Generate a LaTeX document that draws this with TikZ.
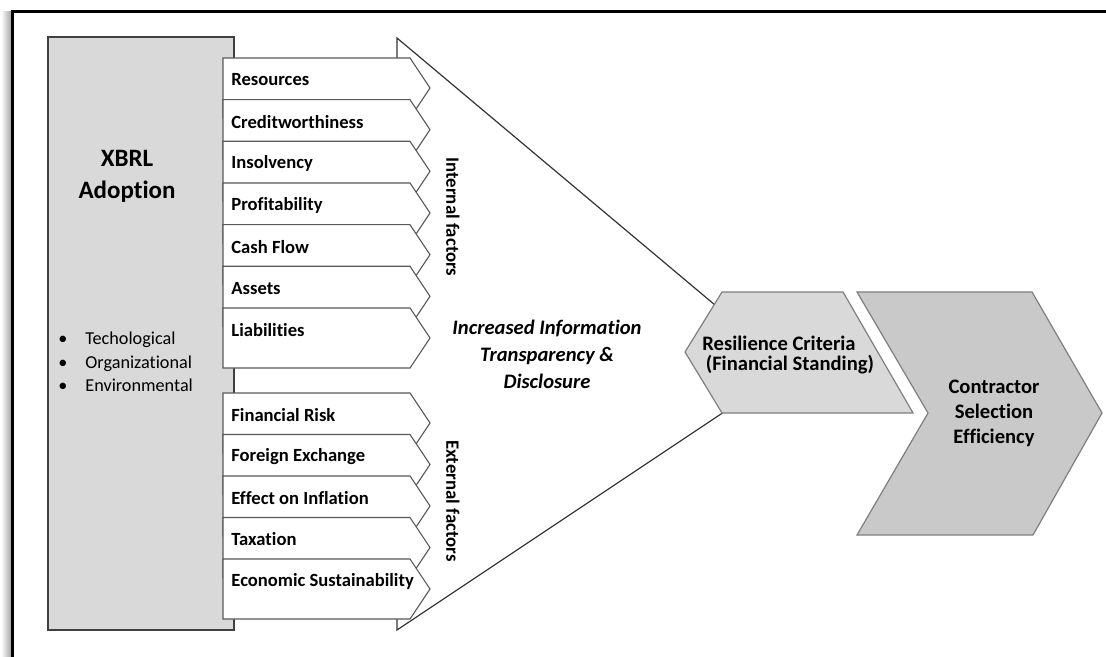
\documentclass[tikz,border=0pt]{standalone}
\usepackage{fontspec}
\setmainfont[Ligatures=NoCommon]{Carlito}
\usetikzlibrary{positioning}

\definecolor{panelgray}{HTML}{D9D9D9}
\definecolor{chevgray}{HTML}{C9C9C9}
\definecolor{edgegray}{HTML}{7F7F7F}

\tikzset{
  factorbox/.style={draw=black!65, fill=white, line width=0.55pt},
  factor/.style={anchor=west, inner sep=0pt, font=\bfseries\fontsize{9.3}{11}\selectfont},
  sidelabel/.style={rotate=-90, inner sep=0pt, font=\bfseries\fontsize{9.4}{11}\selectfont},
  headtext/.style={align=center, inner sep=0pt, font=\bfseries\fontsize{10.3}{12.5}\selectfont}
}

\begin{document}
\begin{tikzpicture}[x=0.5pt, y=-0.5pt]
\useasboundingbox (0,0) rectangle (1106,657);

% outer frame
\shade[left color=white, right color=black!35] (1,12) rectangle (11,657);
\draw[line width=1.5pt] (12,680) -- (12,12) -- (1130,12);

% XBRL panel
\draw[fill=panelgray, draw=black!75, line width=0.6pt] (48,37) rectangle (234,630);
\node[align=center, inner sep=0pt, font=\bfseries\fontsize{12.5}{16}\selectfont] (xbrl) at (127,176) {XBRL\\Adoption};
\node[anchor=west, align=left, inner sep=0pt, font=\fontsize{9.1}{11.75}\selectfont] (toe) at (58,362)
  {\makebox[13.5pt][l]{•}Techological\\\makebox[13.5pt][l]{•}Organizational\\\makebox[13.5pt][l]{•}Environmental};

% funnel
\fill[white] (397,38) -- (790,368) -- (397,630) -- cycle;
\draw[draw=black!80, line width=0.6pt] (397,60) -- (397,38) -- (790,368) -- (397,630) -- (397,615);

% internal factors
\foreach \t/\n/\l in {58/res/Resources, 99.7/cred/Creditworthiness, 141.3/insol/Insolvency,
    183/prof/Profitability, 224.7/cash/Cash Flow, 266.3/asset/Assets, 308/liab/Liabilities}{
  \draw[factorbox] (223,\t) -- ++(187,0) -- ++(20,30) -- ++(-20,30) -- ++(-187,0) -- cycle;
  \node[factor] (\n) at (231,\t+22) {\l};
}
% external factors
\foreach \t/\n/\l in {393/frisk/Financial Risk, 434.5/forex/Foreign Exchange, 476/infl/Effect on Inflation,
    517.5/tax/Taxation, 559/econ/Economic Sustainability}{
  \draw[factorbox] (223,\t) -- ++(187,0) -- ++(20,30) -- ++(-20,30) -- ++(-187,0) -- cycle;
  \node[factor] (\n) at (231,\t+22) {\l};
}

\node[sidelabel] (internal) at (453,217) {Internal factors};
\node[sidelabel] (external) at (453,501) {External factors};

\node[align=center, inner sep=0pt, font=\bfseries\itshape\fontsize{10.3}{13.5}\selectfont] (transp) at (547,354)
  {Increased Information\\Transparency \&\\Disclosure};

% resilience criteria
\draw[fill=panelgray, draw=edgegray, line width=0.6pt] (722,292) -- (843,292) -- (913,413) -- (722,413) -- (685,352) -- cycle;
\node[headtext, align=left, anchor=west, font=\bfseries\fontsize{10.3}{9.8}\selectfont] (resil) at (702,355) {Resilience Criteria\\\,(Financial Standing)};

% contractor selection
\draw[fill=chevgray, draw=edgegray, line width=0.6pt] (857,292) -- (1032,292) -- (1102,413) -- (1033,535) -- (857,535) -- (928,413) -- cycle;
\node[headtext] (contr) at (994,413) {Contractor\\Selection\\Efficiency};
\end{tikzpicture}
\end{document}
